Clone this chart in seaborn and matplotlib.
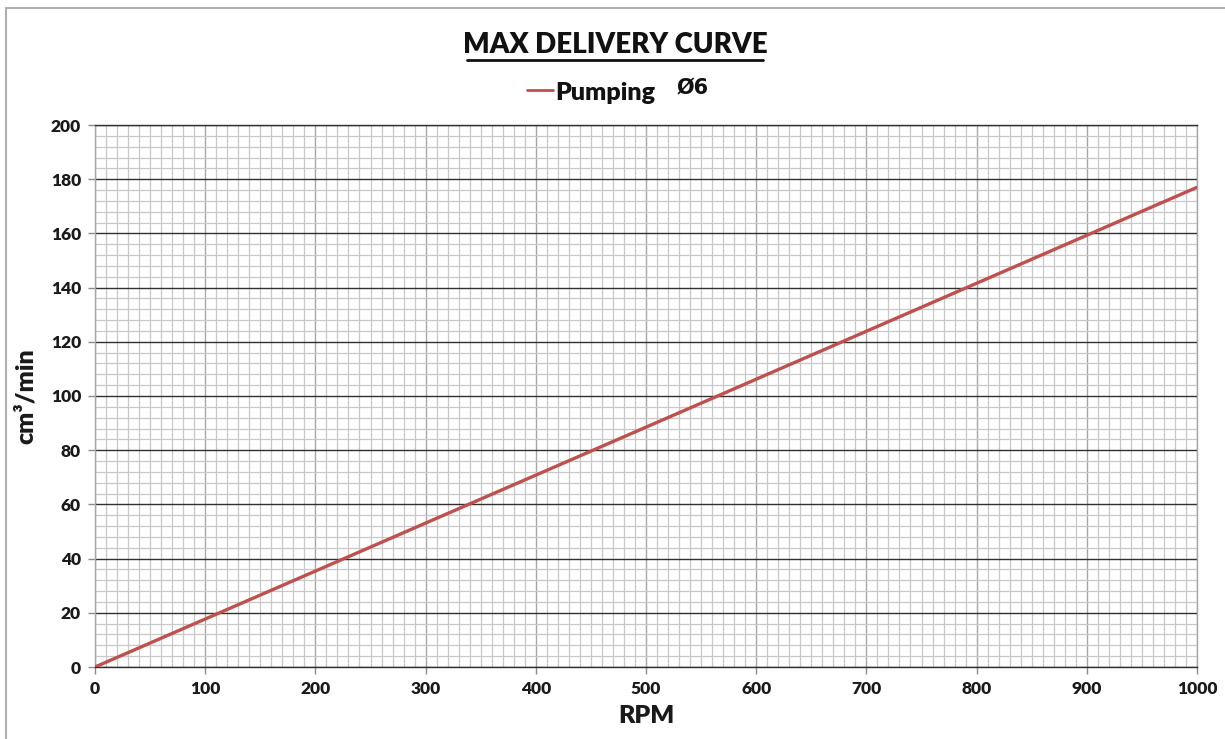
import matplotlib
matplotlib.use("Agg")
import matplotlib.pyplot as plt
import seaborn as sns
import pandas as pd
from matplotlib.lines import Line2D
from matplotlib.ticker import MultipleLocator

rpm = [0, 1000]
delivery = [0, 177]
series_name = "Pumping"
series_suffix = "Ø6"
title = "MAX DELIVERY CURVE"
x_label = "RPM"
y_label = "cm³/min"

sns.set_theme(style="white")
plt.rcParams['font.family'] = ['Lato', 'DejaVu Sans']

df = pd.DataFrame({"RPM": rpm, "Delivery": delivery})

fig = plt.figure(figsize=(12.25, 7.39), dpi=100)
ax = fig.add_axes([95/1225, 1-667/739, (1197-95)/1225, (667-125)/739])

sns.lineplot(data=df, x="RPM", y="Delivery", ax=ax, color="#c0504d", linewidth=2.4, zorder=5, legend=False)

ax.set_xlim(0, 1000)
ax.set_ylim(0, 200)
ax.xaxis.set_major_locator(MultipleLocator(100))
ax.xaxis.set_minor_locator(MultipleLocator(10))
ax.yaxis.set_major_locator(MultipleLocator(20))
ax.yaxis.set_minor_locator(MultipleLocator(4))

ax.grid(which="minor", axis="both", color="#c8c8c8", linewidth=0.9)
ax.grid(which="major", axis="x", color="#a6a6a6", linewidth=1.0)
ax.grid(which="major", axis="y", color="#303030", linewidth=1.0)
ax.set_axisbelow(True)

for s in ["left", "right"]:
    ax.spines[s].set_color("#a6a6a6")
    ax.spines[s].set_linewidth(1.0)
for s in ["top", "bottom"]:
    ax.spines[s].set_color("#303030")
    ax.spines[s].set_linewidth(1.0)

ax.tick_params(which="major", direction="out", length=5, width=1, color="#8c8c8c",
               labelsize=12.5, pad=5)
ax.tick_params(which="minor", length=0)
ax.tick_params(axis="x", bottom=True)
ax.tick_params(axis="y", left=True)
for lbl in ax.get_xticklabels() + ax.get_yticklabels():
    lbl.set_fontweight("heavy")
    lbl.set_color("#1a1a1a")

ax.set_xlabel(x_label, fontsize=18, fontweight="heavy", color="#1a1a1a", labelpad=6)
ax.set_ylabel(y_label, fontsize=18, fontweight="heavy", color="#1a1a1a", labelpad=10)

# Title with underline
fig.text(615/1225, 1-45/739, title, ha="center", va="center", fontsize=20,
         fontweight="heavy", color="#111111")
fig.add_artist(Line2D([467/1225, 763/1225], [1-60/739, 1-60/739], color="#111111",
                      linewidth=2, transform=fig.transFigure))

# Legend
fig.add_artist(Line2D([527/1225, 553/1225], [1-90/739, 1-90/739], color="#c0504d",
                      linewidth=2, transform=fig.transFigure))
fig.text(555/1225, 1-93/739, series_name, ha="left", va="center", fontsize=18,
         fontweight="heavy", color="#111111")
fig.text(677/1225, 1-88/739, series_suffix, ha="left", va="center", fontsize=15,
         fontweight="bold", color="#111111", family=["DejaVu Sans"])

# Figure border lines (top and left)
fig.add_artist(Line2D([6/1225, 1], [1-8/739, 1-8/739], color="#b0b0b0", linewidth=1.5,
                      transform=fig.transFigure))
fig.add_artist(Line2D([6/1225, 6/1225], [0, 1-8/739], color="#b0b0b0", linewidth=1.5,
                      transform=fig.transFigure))

fig.savefig("out.png", dpi=100, facecolor="white")
